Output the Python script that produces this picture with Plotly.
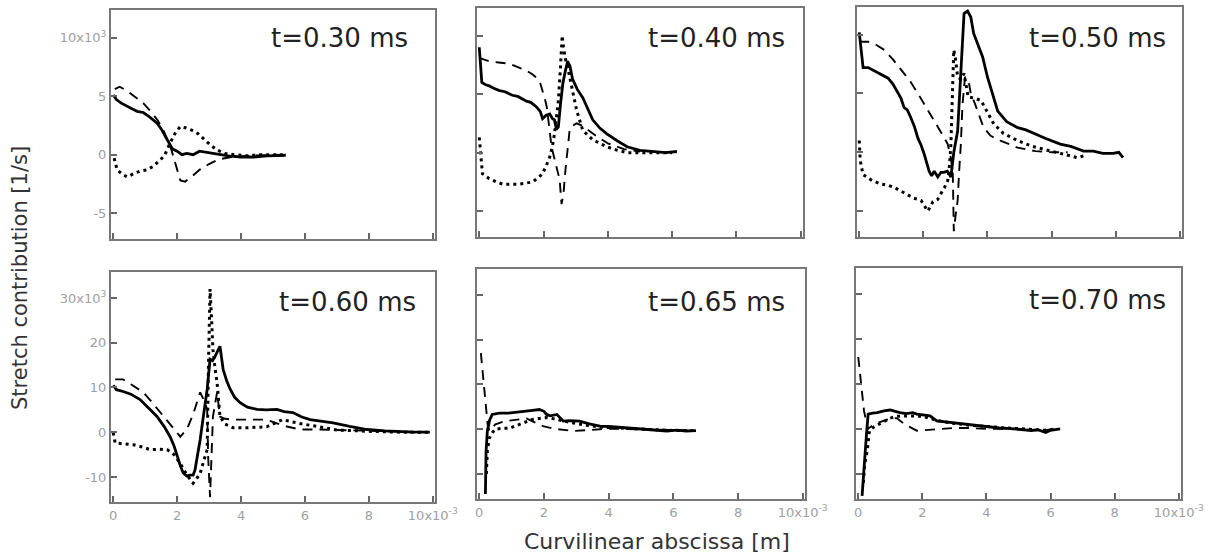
import plotly.graph_objects as go

# ---------------- data (x in 1e-3 m, y in 1e3 1/s) ----------------
panel_labels = ["t=0.30 ms", "t=0.40 ms", "t=0.50 ms", "t=0.60 ms", "t=0.65 ms", "t=0.70 ms"]

# t = 0.30 ms
p1_solid_x = [0, 0.1, 0.25, 0.44, 0.6, 0.75, 0.94, 1.1, 1.25, 1.37, 1.5, 1.62, 1.75, 1.85, 2.0, 2.15, 2.3, 2.5, 2.7, 2.9, 3.1, 3.3, 3.6, 4.0, 4.4, 4.8, 5.1, 5.4]
p1_solid_y = [5.1, 4.7, 4.4, 4.1, 3.9, 3.7, 3.6, 3.3, 3.0, 2.7, 2.2, 1.6, 1.0, 0.5, 0.3, 0.0, 0.1, 0.0, 0.3, 0.2, 0.1, 0.0, -0.1, -0.2, -0.2, -0.1, -0.1, -0.05]
p1_dash_x = [0.05, 0.2, 0.4, 0.6, 0.94, 1.2, 1.4, 1.6, 1.8, 1.95, 2.1, 2.25, 2.45, 2.7, 3.0, 3.3, 3.7, 4.2, 4.7, 5.3]
p1_dash_y = [5.6, 5.8, 5.5, 5.1, 4.4, 3.6, 2.9, 1.9, 0.6, -0.8, -2.2, -2.3, -1.9, -1.3, -0.8, -0.4, -0.2, -0.1, -0.05, 0]
p1_dot_x = [0.03, 0.12, 0.3, 0.44, 0.65, 0.84, 1.05, 1.25, 1.45, 1.6, 1.78, 1.95, 2.1, 2.25, 2.45, 2.65, 2.85, 3.05, 3.25, 3.5, 3.8, 4.2, 4.6, 5.0, 5.3]
p1_dot_y = [-0.3, -1.3, -1.7, -1.9, -1.6, -1.4, -1.3, -1.0, -0.5, -0.1, 1.0, 1.9, 2.4, 2.3, 2.1, 1.8, 1.3, 0.8, 0.4, 0.1, 0.0, -0.1, 0.0, 0.0, 0.0]

# t = 0.40 ms
p2_solid_x = [0, 0.03, 0.08, 0.2, 0.31, 0.45, 0.63, 0.8, 1.03, 1.2, 1.35, 1.47, 1.6, 1.78, 1.9, 1.97, 2.08, 2.19, 2.28, 2.34, 2.4, 2.46, 2.53, 2.6, 2.68, 2.75, 2.82, 2.9, 3.05, 3.22, 3.4, 3.53, 3.75, 3.97, 4.3, 4.6, 5.0, 5.4, 5.8, 6.15]
p2_solid_y = [9.0, 8.0, 6.0, 5.8, 5.7, 5.5, 5.3, 5.2, 4.9, 4.8, 4.6, 4.4, 4.3, 3.9, 3.5, 2.9, 3.2, 3.3, 2.9, 2.8, 2.0, 2.2, 4.2, 5.9, 7.0, 7.8, 7.4, 6.3, 5.4, 4.7, 3.6, 2.8, 2.1, 1.6, 1.0, 0.5, 0.2, 0.1, 0.0, 0.1]
p2_dash_x = [0, 0.31, 0.6, 0.94, 1.2, 1.47, 1.65, 1.78, 1.9, 1.97, 2.05, 2.1, 2.18, 2.25, 2.32, 2.4, 2.5, 2.56, 2.62, 2.68, 2.75, 2.81, 2.9, 3.03, 3.2, 3.4, 3.7, 4.0, 4.5, 5.0]
p2_dash_y = [8.1, 7.8, 7.7, 7.6, 7.3, 7.0, 6.7, 6.4, 5.9, 5.3, 4.5, 3.9, 2.2, 0.5, -0.3, -1.2, -2.3, -4.4, -3.5, -1.5, 0.5, 1.9, 2.3, 2.5, 2.3, 1.9, 1.3, 0.8, 0.3, 0.1]
p2_dot_x = [0, 0.03, 0.1, 0.3, 0.53, 0.75, 0.94, 1.2, 1.45, 1.66, 1.85, 1.97, 2.1, 2.19, 2.28, 2.34, 2.4, 2.46, 2.52, 2.58, 2.62, 2.68, 2.75, 2.87, 3.03, 3.22, 3.53, 3.97, 4.3, 4.6, 5.0, 5.5, 6.0]
p2_dot_y = [1.3, 0.2, -1.8, -2.2, -2.5, -2.7, -2.7, -2.7, -2.6, -2.5, -2.1, -1.8, -1.0, -0.4, 0.6, 1.6, 3.0, 4.4, 7.0, 10.0, 9.0, 8.0, 7.3, 5.6, 3.6, 1.9, 1.1, 0.5, 0.2, 0.0, 0.0, 0.0, 0.0]

# t = 0.50 ms
p3_solid_x = [0, 0.05, 0.12, 0.28, 0.5, 0.7, 0.9, 1.05, 1.2, 1.3, 1.4, 1.5, 1.6, 1.72, 1.83, 1.93, 2.02, 2.1, 2.18, 2.26, 2.34, 2.45, 2.55, 2.64, 2.75, 2.86, 2.95, 3.07, 3.17, 3.27, 3.38, 3.48, 3.57, 3.7, 3.85, 4.0, 4.15, 4.32, 4.6, 4.94, 5.2, 5.45, 5.8, 6.27, 6.6, 7.0, 7.3, 7.6, 7.92, 8.1, 8.23]
p3_solid_y = [10.2, 9.0, 7.2, 7.2, 6.9, 6.6, 6.3, 5.8, 5.0, 4.6, 3.8, 3.6, 3.0, 2.2, 1.2, 0.6, -0.1, -0.9, -1.6, -2.0, -1.6, -2.1, -1.7, -1.7, -1.6, -2.1, 0.0, 1.8, 7.2, 11.8, 12.0, 11.5, 10.1, 9.2, 8.1, 6.4, 5.0, 3.5, 2.6, 2.1, 1.9, 1.6, 1.2, 0.7, 0.5, 0.1, 0.1, -0.1, -0.1, 0.0, -0.45]
p3_dash_x = [0, 0.28, 0.55, 0.78, 1.05, 1.3, 1.6, 1.83, 2.1, 2.33, 2.55, 2.76, 2.86, 2.92, 2.95, 3.0, 3.07, 3.12, 3.17, 3.22, 3.3, 3.4, 3.48, 3.6, 3.7, 3.88, 4.1, 4.4, 4.94, 5.5, 6.0, 6.5]
p3_dash_y = [9.4, 9.4, 9.1, 8.7, 7.9, 7.0, 6.0, 5.0, 3.8, 2.7, 1.7, 0.7, -0.5, -1.9, -6.7, -5.5, -4.1, -1.5, 0.7, 4.0, 6.4, 6.2, 5.0, 4.2, 3.5, 2.1, 1.4, 1.0, 0.4, 0.1, 0.0, 0.0]
p3_dot_x = [0, 0.03, 0.12, 0.4, 0.68, 0.9, 1.1, 1.3, 1.52, 1.7, 1.93, 2.05, 2.14, 2.3, 2.45, 2.55, 2.66, 2.76, 2.82, 2.86, 2.9, 2.95, 3.0, 3.07, 3.17, 3.27, 3.4, 3.6, 3.8, 4.0, 4.2, 4.5, 4.94, 5.4, 5.96, 6.4, 6.8, 7.0]
p3_dot_y = [1.0, -0.7, -1.9, -2.4, -2.7, -2.8, -3.0, -3.3, -3.6, -3.9, -4.1, -4.6, -5.0, -4.2, -4.0, -3.5, -3.0, -2.4, -1.0, 0.7, 4.0, 8.7, 8.0, 6.4, 6.2, 6.7, 4.7, 4.6, 4.4, 3.4, 2.4, 1.6, 1.0, 0.5, 0.1, -0.2, -0.45, -0.3]

# t = 0.60 ms
p4_solid_x = [0, 0.1, 0.31, 0.55, 0.84, 1.1, 1.37, 1.6, 1.78, 1.9, 2.0, 2.1, 2.19, 2.3, 2.4, 2.5, 2.56, 2.65, 2.72, 2.83, 2.94, 3.03, 3.11, 3.19, 3.27, 3.34, 3.44, 3.55, 3.66, 3.8, 3.97, 4.2, 4.5, 4.8, 5.12, 5.35, 5.62, 5.9, 6.16, 6.5, 6.88, 7.4, 7.94, 8.5, 8.97, 9.4, 9.9]
p4_solid_y = [10.5, 9.5, 9.1, 8.5, 7.3, 5.5, 3.5, 1.2, -1.0, -3.0, -5.5, -7.5, -9.1, -9.8, -9.6, -9.6, -8.4, -5.0, -1.7, 4.0, 9.6, 16.3, 16.0, 17.0, 18.0, 19.2, 14.0, 11.5, 9.6, 7.8, 6.6, 5.6, 5.1, 5.0, 5.1, 4.6, 4.4, 3.4, 2.8, 2.4, 2.1, 1.3, 0.6, 0.3, 0.1, 0.0, 0.0]
p4_dash_x = [0.06, 0.31, 0.6, 0.94, 1.2, 1.47, 1.8, 2.1, 2.3, 2.5, 2.72, 2.85, 2.94, 2.97, 3.03, 3.12, 3.25, 3.34, 3.5, 3.75, 4.2, 4.8, 5.3, 5.84, 6.4, 7.0, 8.0, 9.0, 9.9]
p4_dash_y = [11.8, 11.8, 10.5, 8.9, 6.8, 4.4, 1.6, -1.0, 0.6, 4.0, 8.9, 7.0, 5.1, -5.5, -14.5, 3.5, 8.9, 3.5, 3.0, 2.8, 2.8, 2.8, 1.5, 0.6, 0.6, 0.5, 0.2, 0.0, 0.0]
p4_dot_x = [0, 0.06, 0.3, 0.63, 0.9, 1.16, 1.45, 1.69, 1.9, 2.1, 2.3, 2.5, 2.6, 2.72, 2.85, 2.94, 2.98, 3.03, 3.08, 3.12, 3.19, 3.25, 3.34, 3.5, 3.75, 4.2, 4.8, 5.3, 5.8, 6.4, 7.0, 8.0, 9.0, 9.9]
p4_dot_y = [-0.1, -2.4, -2.6, -2.8, -3.3, -3.9, -3.8, -3.9, -5.0, -7.0, -9.5, -11.4, -10.5, -9.2, -6.0, -3.9, 15.0, 32.0, 25.0, 18.5, 14.0, 11.1, 3.5, 1.8, 1.0, 1.0, 1.2, 2.8, 2.0, 1.2, 0.5, 0.2, 0.0, 0.0]

# t = 0.65 ms
p5_solid_x = [0.19, 0.21, 0.25, 0.32, 0.4, 0.62, 0.9, 1.2, 1.45, 1.65, 1.86, 2.0, 2.08, 2.2, 2.4, 2.5, 2.6, 2.8, 3.1, 3.4, 3.73, 4.0, 4.4, 4.75, 5.1, 5.5, 5.8, 6.1, 6.4, 6.7]
p5_solid_y = [-14.5, -5.0, -0.4, 2.0, 3.3, 3.6, 3.6, 3.8, 3.9, 4.2, 4.4, 4.0, 3.3, 3.0, 3.3, 2.5, 1.8, 1.9, 1.8, 1.2, 0.7, 0.6, 0.4, 0.2, 0.0, -0.2, -0.4, -0.2, -0.4, -0.3]
p5_dash_x = [0.05, 0.12, 0.2, 0.26, 0.31, 0.5, 0.8, 1.15, 1.46, 1.7, 1.97, 2.3, 2.9, 3.4, 3.73, 4.2, 4.8, 5.4, 6.0, 6.6]
p5_dash_y = [17.0, 12.0, 6.0, 1.0, -0.4, 1.1, 1.8, 2.2, 2.4, 1.6, 0.7, 0.1, -0.4, -0.2, 0.0, 0.1, 0.0, -0.1, -0.2, -0.3]
p5_dot_x = [0.22, 0.25, 0.31, 0.4, 0.5, 0.7, 0.93, 1.15, 1.34, 1.5, 1.65, 1.86, 2.1, 2.4, 2.8, 3.2, 3.7, 4.2, 4.8, 5.4, 6.0, 6.6]
p5_dot_y = [-10.0, -4.9, -2.0, -0.8, 0.0, 0.2, 0.2, 0.8, 1.3, 1.8, 2.2, 2.4, 2.6, 2.2, 1.5, 1.0, 0.5, 0.3, 0.1, -0.2, -0.3, -0.3]

# t = 0.70 ms
p6_solid_x = [0.12, 0.17, 0.22, 0.27, 0.31, 0.45, 0.59, 0.8, 1.0, 1.15, 1.3, 1.5, 1.7, 1.83, 2.0, 2.24, 2.45, 2.7, 3.0, 3.38, 3.8, 4.4, 4.9, 5.4, 5.6, 5.85, 6.0, 6.15, 6.3]
p6_solid_y = [-14.9, -9.0, -4.9, 0.0, 3.3, 3.5, 3.6, 4.0, 4.2, 3.9, 3.6, 3.4, 3.6, 3.3, 3.2, 2.9, 1.8, 1.6, 1.4, 1.1, 0.7, 0.2, 0.0, -0.4, -0.2, -0.8, -0.3, -0.1, 0.0]
p6_dash_x = [0.0, 0.05, 0.1, 0.18, 0.3, 0.5, 0.78, 1.0, 1.2, 1.45, 1.83, 2.2, 2.64, 3.0, 3.4, 4.0, 4.6, 5.2, 5.8, 6.2]
p6_dash_y = [16.0, 13.0, 10.0, 4.0, 0.0, 1.0, 1.8, 2.3, 2.4, 1.0, -0.4, -0.2, 0.0, 0.2, 0.2, 0.0, 0.0, -0.2, -0.3, 0.0]
p6_dot_x = [0.16, 0.2, 0.28, 0.35, 0.5, 0.68, 0.85, 1.0, 1.2, 1.5, 2.0, 2.5, 3.0, 3.5, 4.0, 4.6, 5.2, 5.8, 6.2]
p6_dot_y = [-12.0, -8.0, -4.9, -0.4, 0.5, 1.1, 1.8, 2.4, 2.8, 2.9, 2.8, 1.8, 1.2, 0.8, 0.5, 0.2, 0.0, -0.3, 0.0]

x_tickvals = [0, 2, 4, 6, 8, 10]
x_ticktext = ["0", "2", "4", "6", "8", "10x10<sup>-3</sup>"]
top_y_tickvals = [-5, 0, 5, 10]
top_y_ticktext = ["-5", "0", "5", "10x10<sup>3</sup>"]
bot_y_tickvals = [-10, 0, 10, 20, 30]
bot_y_ticktext = ["-10", "0", "10", "20", "30x10<sup>3</sup>"]

panels = [
    (p1_solid_x, p1_solid_y, p1_dash_x, p1_dash_y, p1_dot_x, p1_dot_y),
    (p2_solid_x, p2_solid_y, p2_dash_x, p2_dash_y, p2_dot_x, p2_dot_y),
    (p3_solid_x, p3_solid_y, p3_dash_x, p3_dash_y, p3_dot_x, p3_dot_y),
    (p4_solid_x, p4_solid_y, p4_dash_x, p4_dash_y, p4_dot_x, p4_dot_y),
    (p5_solid_x, p5_solid_y, p5_dash_x, p5_dash_y, p5_dot_x, p5_dot_y),
    (p6_solid_x, p6_solid_y, p6_dash_x, p6_dash_y, p6_dot_x, p6_dot_y),
]

# ---------------- layout geometry (pixels) ----------------
W, H = 1208, 558
boxes = [  # left, right, top, bottom
    (111, 435, 10, 239),
    (477, 803, 8, 237),
    (857, 1182, 7, 237),
    (111, 435, 272, 502),
    (477, 805, 269, 499),
    (856, 1181, 268, 499),
]
label_pos = [  # right x, center y of annotation text
    (410, 38), (787, 38), (1168, 38),
    (418, 302), (787, 302), (1168, 300),
]
top_yrange = [-7.2, 12.35]
bot_yrange = [-15.6, 35.8]
xrange_ = [-0.07, 10.07]

fig = go.Figure()
layout = dict(
    width=W, height=H, autosize=False,
    margin=dict(l=0, r=0, t=0, b=0, pad=0),
    paper_bgcolor="white", plot_bgcolor="white",
    showlegend=False,
    font=dict(family="DejaVu Sans", color="#333333"),
    annotations=[],
)

frame_color = "#777777"
tick_font = dict(family="DejaVu Sans", size=13, color="#a0a0a0")

for i, (sx, sy, dx, dy, ox, oy) in enumerate(panels):
    n = i + 1
    xa = "x" if n == 1 else f"x{n}"
    ya = "y" if n == 1 else f"y{n}"
    common = dict(xaxis=xa, yaxis=ya, mode="lines", hoverinfo="skip")
    fig.add_trace(go.Scatter(x=dx, y=dy, line=dict(color="black", width=1.9, dash="10px,7px"), **common))
    fig.add_trace(go.Scatter(x=ox, y=oy, line=dict(color="black", width=3, dash="3px,4px"), **common))
    fig.add_trace(go.Scatter(x=sx, y=sy, line=dict(color="black", width=2.8), **common))

    l, r, t, b = boxes[i]
    top_row = i < 3
    xkey = "xaxis" if n == 1 else f"xaxis{n}"
    ykey = "yaxis" if n == 1 else f"yaxis{n}"
    layout[xkey] = dict(
        domain=[l / W, r / W], anchor=ya, range=xrange_, automargin=False,
        showgrid=False, zeroline=False,
        showline=True, mirror=True, linecolor=frame_color, linewidth=2,
        ticks="inside", ticklen=6, tickwidth=1.5, tickcolor="#666666",
        tickvals=x_tickvals, ticktext=x_ticktext,
        showticklabels=not top_row, tickfont=tick_font,
    )
    layout[ykey] = dict(
        domain=[1 - b / H, 1 - t / H], anchor=xa, automargin=False,
        range=top_yrange if top_row else bot_yrange,
        showgrid=False, zeroline=False,
        showline=True, mirror=True, linecolor=frame_color, linewidth=2,
        ticks="inside", ticklen=6, tickwidth=1.5, tickcolor="#666666",
        tickvals=top_y_tickvals if top_row else bot_y_tickvals,
        ticktext=top_y_ticktext if top_row else bot_y_ticktext,
        showticklabels=(i % 3 == 0), tickfont=tick_font,
    )
    lx, ly = label_pos[i]
    layout["annotations"].append(dict(
        text=panel_labels[i], xref="paper", yref="paper",
        x=lx / W, y=1 - ly / H, xanchor="right", yanchor="middle",
        showarrow=False, font=dict(family="DejaVu Sans", size=26, color="#222222"),
    ))

layout["annotations"].append(dict(
    text="Stretch contribution [1/s]", xref="paper", yref="paper",
    x=20 / W, y=1 - 278 / H, textangle=-90, xanchor="center", yanchor="middle",
    showarrow=False, font=dict(family="DejaVu Sans", size=21, color="#333333"),
))
layout["annotations"].append(dict(
    text="Curvilinear abscissa [m]", xref="paper", yref="paper",
    x=657 / W, y=1 - 541 / H, xanchor="center", yanchor="middle",
    showarrow=False, font=dict(family="DejaVu Sans", size=22, color="#333333"),
))

fig.update_layout(**layout)
post = (
    "document.body.style.margin='0px';"
    "document.body.style.overflow='hidden';"
)
fig.write_html(
    "out.html",
    config={"responsive": False, "displayModeBar": False},
    post_script=post,
)
